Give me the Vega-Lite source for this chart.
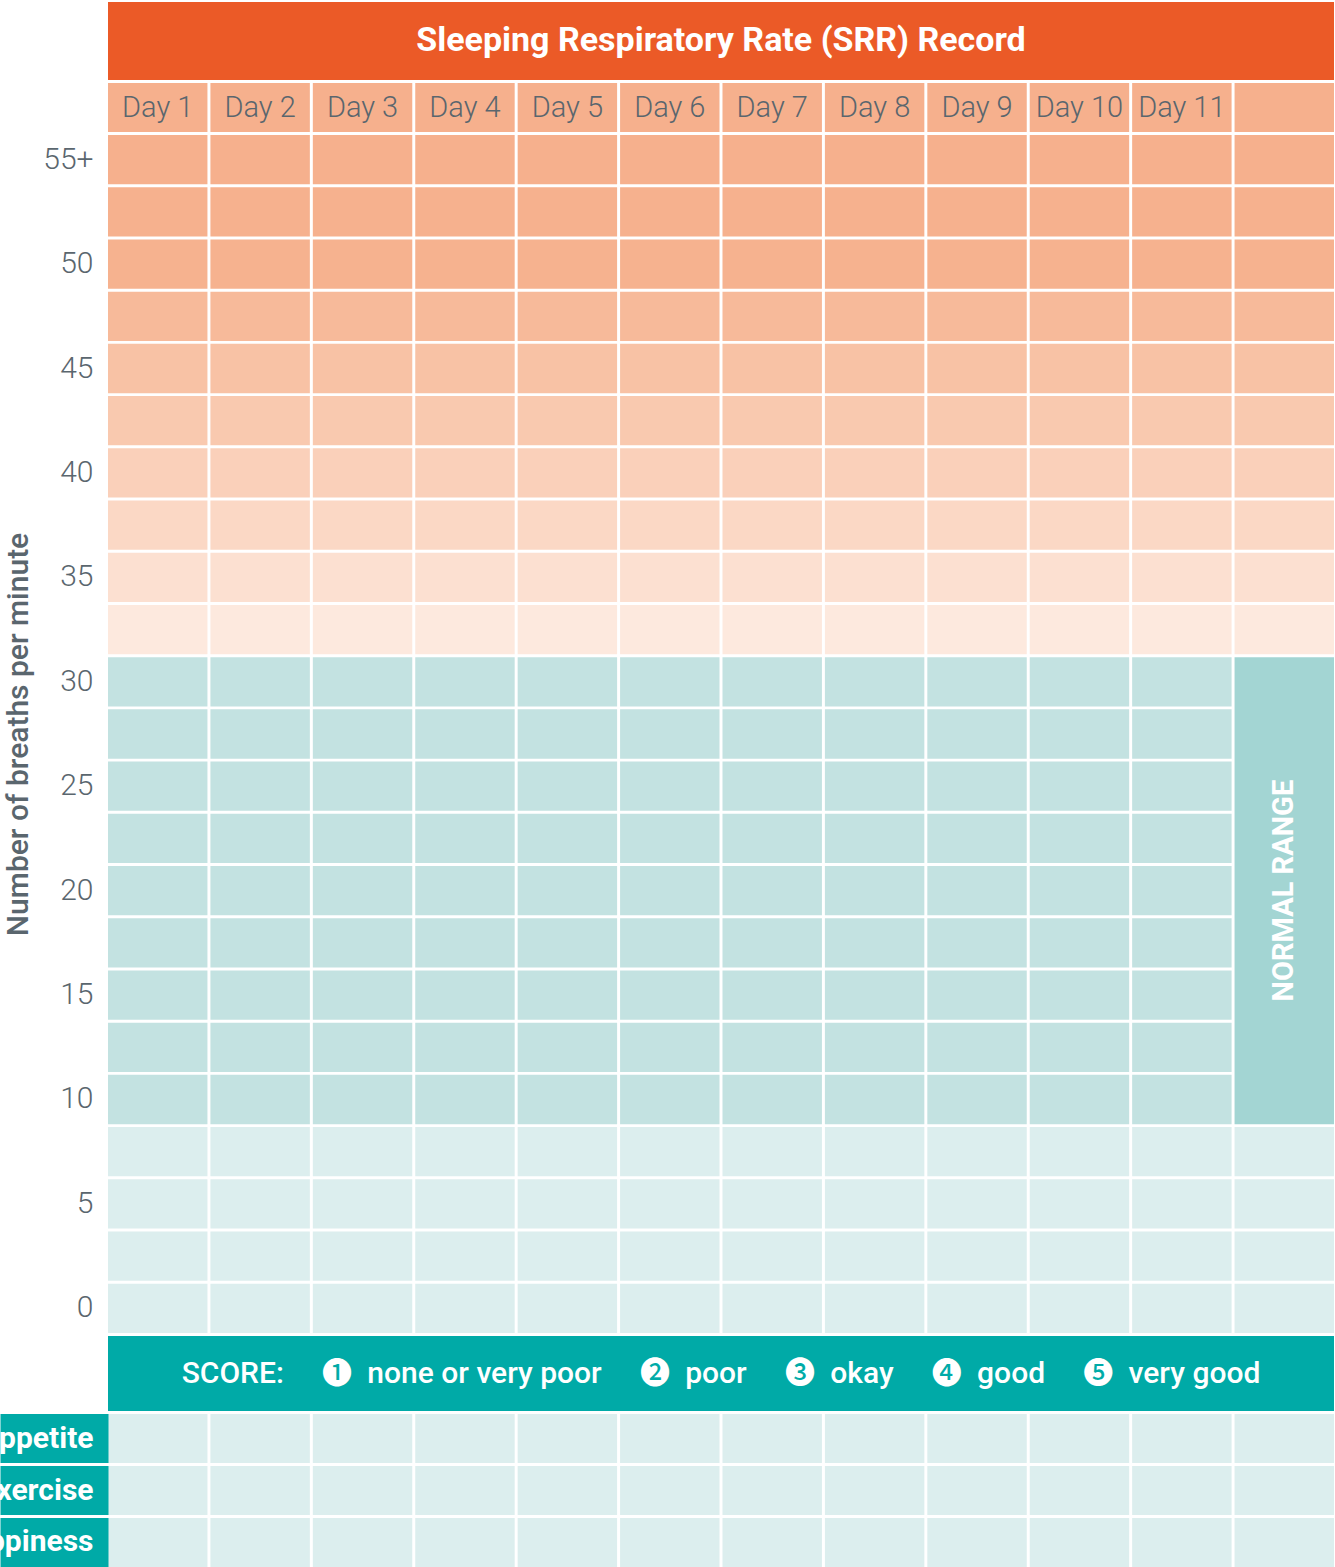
{
"$schema": "https://vega.github.io/schema/vega-lite/v6.json",
"autosize": {"type": "none"},
"padding": {"left": 108, "top": 2, "right": 1227, "bottom": 1565},
"background": "white",
"spacing": 3,
"bounds": "flush",
"config": {"view": {"stroke": null}, "font": "Roboto"},
"vconcat": [
{
"width": 1226, "height": 78,
"view": {"fill": "#EB5A27", "stroke": null},
"data": {"values": [{"t": "Sleeping Respiratory Rate (SRR) Record"}]},
"mark": {"type": "text", "font": "Roboto", "fontWeight": "bold", "fontSize": 34, "color": "white", "baseline": "middle", "align": "center"},
"encoding": {"text": {"field": "t"}}
},
{
"width": 1226, "height": 49,
"data": {"values": [{"c":1,"d":"Day 1"},{"c":2,"d":"Day 2"},{"c":3,"d":"Day 3"},{"c":4,"d":"Day 4"},{"c":5,"d":"Day 5"},{"c":6,"d":"Day 6"},{"c":7,"d":"Day 7"},{"c":8,"d":"Day 8"},{"c":9,"d":"Day 9"},{"c":10,"d":"Day 10"},{"c":11,"d":"Day 11"},{"c":12,"d":""}]},
"encoding": {"x": {"field": "c", "type": "ordinal", "axis": null, "scale": {"domain": [1,2,3,4,5,6,7,8,9,10,11,12], "paddingInner": 0.029, "paddingOuter": 0}}},
"layer": [
{"mark": {"type": "rect", "color": "#F6B08D"}},
{"mark": {"type": "text", "font": "Roboto", "fontWeight": 300, "fontSize": 29, "color": "#5A666E", "baseline": "middle"}, "encoding": {"text": {"field": "d"}}}
]
},
{
"width": 1226, "height": 1198,
"data": {"values": [
{"c":1,"r":"55+"},{"c":2,"r":"55+"},{"c":3,"r":"55+"},{"c":4,"r":"55+"},{"c":5,"r":"55+"},{"c":6,"r":"55+"},{"c":7,"r":"55+"},{"c":8,"r":"55+"},{"c":9,"r":"55+"},{"c":10,"r":"55+"},{"c":11,"r":"55+"},{"c":12,"r":"55+"},
{"c":1,"r":"52.5"},{"c":2,"r":"52.5"},{"c":3,"r":"52.5"},{"c":4,"r":"52.5"},{"c":5,"r":"52.5"},{"c":6,"r":"52.5"},{"c":7,"r":"52.5"},{"c":8,"r":"52.5"},{"c":9,"r":"52.5"},{"c":10,"r":"52.5"},{"c":11,"r":"52.5"},{"c":12,"r":"52.5"},
{"c":1,"r":"50"},{"c":2,"r":"50"},{"c":3,"r":"50"},{"c":4,"r":"50"},{"c":5,"r":"50"},{"c":6,"r":"50"},{"c":7,"r":"50"},{"c":8,"r":"50"},{"c":9,"r":"50"},{"c":10,"r":"50"},{"c":11,"r":"50"},{"c":12,"r":"50"},
{"c":1,"r":"47.5"},{"c":2,"r":"47.5"},{"c":3,"r":"47.5"},{"c":4,"r":"47.5"},{"c":5,"r":"47.5"},{"c":6,"r":"47.5"},{"c":7,"r":"47.5"},{"c":8,"r":"47.5"},{"c":9,"r":"47.5"},{"c":10,"r":"47.5"},{"c":11,"r":"47.5"},{"c":12,"r":"47.5"},
{"c":1,"r":"45"},{"c":2,"r":"45"},{"c":3,"r":"45"},{"c":4,"r":"45"},{"c":5,"r":"45"},{"c":6,"r":"45"},{"c":7,"r":"45"},{"c":8,"r":"45"},{"c":9,"r":"45"},{"c":10,"r":"45"},{"c":11,"r":"45"},{"c":12,"r":"45"},
{"c":1,"r":"42.5"},{"c":2,"r":"42.5"},{"c":3,"r":"42.5"},{"c":4,"r":"42.5"},{"c":5,"r":"42.5"},{"c":6,"r":"42.5"},{"c":7,"r":"42.5"},{"c":8,"r":"42.5"},{"c":9,"r":"42.5"},{"c":10,"r":"42.5"},{"c":11,"r":"42.5"},{"c":12,"r":"42.5"},
{"c":1,"r":"40"},{"c":2,"r":"40"},{"c":3,"r":"40"},{"c":4,"r":"40"},{"c":5,"r":"40"},{"c":6,"r":"40"},{"c":7,"r":"40"},{"c":8,"r":"40"},{"c":9,"r":"40"},{"c":10,"r":"40"},{"c":11,"r":"40"},{"c":12,"r":"40"},
{"c":1,"r":"37.5"},{"c":2,"r":"37.5"},{"c":3,"r":"37.5"},{"c":4,"r":"37.5"},{"c":5,"r":"37.5"},{"c":6,"r":"37.5"},{"c":7,"r":"37.5"},{"c":8,"r":"37.5"},{"c":9,"r":"37.5"},{"c":10,"r":"37.5"},{"c":11,"r":"37.5"},{"c":12,"r":"37.5"},
{"c":1,"r":"35"},{"c":2,"r":"35"},{"c":3,"r":"35"},{"c":4,"r":"35"},{"c":5,"r":"35"},{"c":6,"r":"35"},{"c":7,"r":"35"},{"c":8,"r":"35"},{"c":9,"r":"35"},{"c":10,"r":"35"},{"c":11,"r":"35"},{"c":12,"r":"35"},
{"c":1,"r":"32.5"},{"c":2,"r":"32.5"},{"c":3,"r":"32.5"},{"c":4,"r":"32.5"},{"c":5,"r":"32.5"},{"c":6,"r":"32.5"},{"c":7,"r":"32.5"},{"c":8,"r":"32.5"},{"c":9,"r":"32.5"},{"c":10,"r":"32.5"},{"c":11,"r":"32.5"},{"c":12,"r":"32.5"},
{"c":1,"r":"30"},{"c":2,"r":"30"},{"c":3,"r":"30"},{"c":4,"r":"30"},{"c":5,"r":"30"},{"c":6,"r":"30"},{"c":7,"r":"30"},{"c":8,"r":"30"},{"c":9,"r":"30"},{"c":10,"r":"30"},{"c":11,"r":"30"},
{"c":1,"r":"27.5"},{"c":2,"r":"27.5"},{"c":3,"r":"27.5"},{"c":4,"r":"27.5"},{"c":5,"r":"27.5"},{"c":6,"r":"27.5"},{"c":7,"r":"27.5"},{"c":8,"r":"27.5"},{"c":9,"r":"27.5"},{"c":10,"r":"27.5"},{"c":11,"r":"27.5"},
{"c":1,"r":"25"},{"c":2,"r":"25"},{"c":3,"r":"25"},{"c":4,"r":"25"},{"c":5,"r":"25"},{"c":6,"r":"25"},{"c":7,"r":"25"},{"c":8,"r":"25"},{"c":9,"r":"25"},{"c":10,"r":"25"},{"c":11,"r":"25"},
{"c":1,"r":"22.5"},{"c":2,"r":"22.5"},{"c":3,"r":"22.5"},{"c":4,"r":"22.5"},{"c":5,"r":"22.5"},{"c":6,"r":"22.5"},{"c":7,"r":"22.5"},{"c":8,"r":"22.5"},{"c":9,"r":"22.5"},{"c":10,"r":"22.5"},{"c":11,"r":"22.5"},
{"c":1,"r":"20"},{"c":2,"r":"20"},{"c":3,"r":"20"},{"c":4,"r":"20"},{"c":5,"r":"20"},{"c":6,"r":"20"},{"c":7,"r":"20"},{"c":8,"r":"20"},{"c":9,"r":"20"},{"c":10,"r":"20"},{"c":11,"r":"20"},
{"c":1,"r":"17.5"},{"c":2,"r":"17.5"},{"c":3,"r":"17.5"},{"c":4,"r":"17.5"},{"c":5,"r":"17.5"},{"c":6,"r":"17.5"},{"c":7,"r":"17.5"},{"c":8,"r":"17.5"},{"c":9,"r":"17.5"},{"c":10,"r":"17.5"},{"c":11,"r":"17.5"},
{"c":1,"r":"15"},{"c":2,"r":"15"},{"c":3,"r":"15"},{"c":4,"r":"15"},{"c":5,"r":"15"},{"c":6,"r":"15"},{"c":7,"r":"15"},{"c":8,"r":"15"},{"c":9,"r":"15"},{"c":10,"r":"15"},{"c":11,"r":"15"},
{"c":1,"r":"12.5"},{"c":2,"r":"12.5"},{"c":3,"r":"12.5"},{"c":4,"r":"12.5"},{"c":5,"r":"12.5"},{"c":6,"r":"12.5"},{"c":7,"r":"12.5"},{"c":8,"r":"12.5"},{"c":9,"r":"12.5"},{"c":10,"r":"12.5"},{"c":11,"r":"12.5"},
{"c":1,"r":"10"},{"c":2,"r":"10"},{"c":3,"r":"10"},{"c":4,"r":"10"},{"c":5,"r":"10"},{"c":6,"r":"10"},{"c":7,"r":"10"},{"c":8,"r":"10"},{"c":9,"r":"10"},{"c":10,"r":"10"},{"c":11,"r":"10"},
{"c":1,"r":"7.5"},{"c":2,"r":"7.5"},{"c":3,"r":"7.5"},{"c":4,"r":"7.5"},{"c":5,"r":"7.5"},{"c":6,"r":"7.5"},{"c":7,"r":"7.5"},{"c":8,"r":"7.5"},{"c":9,"r":"7.5"},{"c":10,"r":"7.5"},{"c":11,"r":"7.5"},{"c":12,"r":"7.5"},
{"c":1,"r":"5"},{"c":2,"r":"5"},{"c":3,"r":"5"},{"c":4,"r":"5"},{"c":5,"r":"5"},{"c":6,"r":"5"},{"c":7,"r":"5"},{"c":8,"r":"5"},{"c":9,"r":"5"},{"c":10,"r":"5"},{"c":11,"r":"5"},{"c":12,"r":"5"},
{"c":1,"r":"2.5"},{"c":2,"r":"2.5"},{"c":3,"r":"2.5"},{"c":4,"r":"2.5"},{"c":5,"r":"2.5"},{"c":6,"r":"2.5"},{"c":7,"r":"2.5"},{"c":8,"r":"2.5"},{"c":9,"r":"2.5"},{"c":10,"r":"2.5"},{"c":11,"r":"2.5"},{"c":12,"r":"2.5"},
{"c":1,"r":"0"},{"c":2,"r":"0"},{"c":3,"r":"0"},{"c":4,"r":"0"},{"c":5,"r":"0"},{"c":6,"r":"0"},{"c":7,"r":"0"},{"c":8,"r":"0"},{"c":9,"r":"0"},{"c":10,"r":"0"},{"c":11,"r":"0"},{"c":12,"r":"0"}
]},
"encoding": {
"x": {"field": "c", "type": "ordinal", "axis": null, "scale": {"domain": [1,2,3,4,5,6,7,8,9,10,11,12], "paddingInner": 0.029, "paddingOuter": 0}},
"y": {"field": "r", "type": "ordinal",
 "scale": {"domain": ["55+","52.5","50","47.5","45","42.5","40","37.5","35","32.5","30","27.5","25","22.5","20","17.5","15","12.5","10","7.5","5","2.5","0"], "paddingInner": 0.056, "paddingOuter": 0},
 "axis": {"title": "Number of breaths per minute", "domain": false, "ticks": false, "labelPadding": 15, "labelFont": "Roboto", "labelFontWeight": 300, "labelFontSize": 30, "labelColor": "#5A666E", "labelAlign": "right", "labelBaseline": "middle", "labelExpr": "indexof(datum.value, '.') >= 0 ? '' : datum.value", "titleFont": "Roboto", "titleFontWeight": 500, "titleFontSize": 30, "titleColor": "#5A666E", "titlePadding": 9}}
},
"layer": [
{
"mark": {"type": "rect"},
"encoding": {
"color": {"field": "r", "type": "ordinal", "legend": null,
 "scale": {"domain": ["55+","52.5","50","47.5","45","42.5","40","37.5","35","32.5","30","27.5","25","22.5","20","17.5","15","12.5","10","7.5","5","2.5","0"],
 "range": ["#F6B08D","#F6B18E","#F6B28F","#F7BA9A","#F8C2A5","#F9C9AF","#FAD0BA","#FBD8C5","#FCE0D1","#FDE9DE","#C3E2E1","#C3E2E1","#C3E2E1","#C3E2E1","#C3E2E1","#C3E2E1","#C3E2E1","#C3E2E1","#C3E2E1","#DCEEEE","#DCEEEE","#DCEEEE","#DCEEEE"]}}
}
},
{
"data": {"values": [{"c": 12, "r": "30", "r2": "10"}]},
"mark": {"type": "rect", "color": "#A3D5D3"},
"encoding": {"y": {"field": "r", "type": "ordinal", "bandPosition": 0}, "y2": {"field": "r2", "bandPosition": 1}}
},
{
"data": {"values": [{"c": 12, "r": "20", "t": "NORMAL RANGE"}]},
"mark": {"type": "text", "angle": 270, "font": "Roboto", "fontWeight": "bold", "fontSize": 29, "color": "white", "baseline": "middle", "align": "center"},
"encoding": {"text": {"field": "t"}}
}
]
},
{
"width": 1226, "height": 75,
"view": {"fill": "#00AAA7", "stroke": null},
"data": {"values": [{"t": "SCORE:\u2003\u2005\u2776\u2002none or very poor\u2003\u2005\u2777\u2002poor\u2003\u2005\u2778\u2002okay\u2003\u2005\u2779\u2002good\u2003\u2005\u277A\u2002very good"}]},
"mark": {"type": "text", "font": "Roboto, Noto Sans CJK JP", "fontWeight": 500, "fontSize": 30, "color": "white", "baseline": "middle", "align": "center"},
"encoding": {"text": {"field": "t"}}
},
{
"width": 1226, "height": 153,
"data": {"values": [
{"c":1,"r":"Appetite"},{"c":2,"r":"Appetite"},{"c":3,"r":"Appetite"},{"c":4,"r":"Appetite"},{"c":5,"r":"Appetite"},{"c":6,"r":"Appetite"},{"c":7,"r":"Appetite"},{"c":8,"r":"Appetite"},{"c":9,"r":"Appetite"},{"c":10,"r":"Appetite"},{"c":11,"r":"Appetite"},{"c":12,"r":"Appetite"},
{"c":1,"r":"Exercise"},{"c":2,"r":"Exercise"},{"c":3,"r":"Exercise"},{"c":4,"r":"Exercise"},{"c":5,"r":"Exercise"},{"c":6,"r":"Exercise"},{"c":7,"r":"Exercise"},{"c":8,"r":"Exercise"},{"c":9,"r":"Exercise"},{"c":10,"r":"Exercise"},{"c":11,"r":"Exercise"},{"c":12,"r":"Exercise"},
{"c":1,"r":"Happiness"},{"c":2,"r":"Happiness"},{"c":3,"r":"Happiness"},{"c":4,"r":"Happiness"},{"c":5,"r":"Happiness"},{"c":6,"r":"Happiness"},{"c":7,"r":"Happiness"},{"c":8,"r":"Happiness"},{"c":9,"r":"Happiness"},{"c":10,"r":"Happiness"},{"c":11,"r":"Happiness"},{"c":12,"r":"Happiness"}
]},
"mark": {"type": "rect", "color": "#DCEEEE"},
"encoding": {
"x": {"field": "c", "type": "ordinal", "axis": null, "scale": {"domain": [1,2,3,4,5,6,7,8,9,10,11,12], "paddingInner": 0.029, "paddingOuter": 0}},
"y": {"field": "r", "type": "ordinal",
 "scale": {"domain": ["Appetite","Exercise","Happiness"], "paddingInner": 0.056, "paddingOuter": 0},
 "axis": {"title": null, "domain": false, "ticks": true, "tickSize": 108, "tickWidth": 49, "tickColor": "#00AAA7", "tickCap": "butt", "labelPadding": -93, "labelFont": "Roboto", "labelFontWeight": "bold", "labelFontSize": 30, "labelColor": "white", "labelAlign": "right", "labelBaseline": "middle", "labelLimit": 600}}
}
}
]
}
